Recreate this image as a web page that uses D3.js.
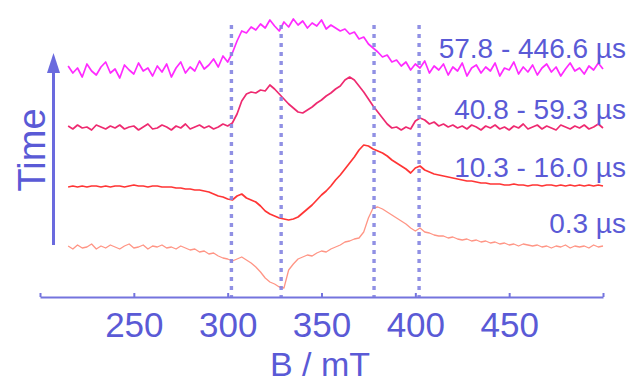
<!DOCTYPE html>
<html>
<head>
<meta charset="utf-8">
<script src="https://cdn.jsdelivr.net/npm/d3@7"></script>
<style>
  html, body { margin: 0; padding: 0; background: #fff; }
  svg { display: block; }
  text { font-family: "Liberation Sans", Arial, sans-serif; }
</style>
</head>
<body>
<svg id="chart" width="633" height="384"></svg>
<script>
// ---------------- DATA ----------------
const field = [
  215, 217.5, 220, 222.5, 225, 227.5, 230, 232.5, 235, 237.5,
  240, 242.5, 245, 247.5, 250, 252.5, 255, 257.5, 260, 262.5,
  265, 267.5, 270, 272.5, 275, 277.5, 280, 282.5, 285, 287.5,
  290, 292.5, 295, 297.5, 300, 302.5, 305, 307.5, 310, 312.5,
  315, 317.5, 320, 322.5, 325, 327.5, 330, 332.5, 335, 337.5,
  340, 342.5, 345, 347.5, 350, 352.5, 355, 357.5, 360, 362.5,
  365, 367.5, 370, 372.5, 375, 377.5, 380, 382.5, 385, 387.5,
  390, 392.5, 395, 397.5, 400, 402.5, 405, 407.5, 410, 412.5,
  415, 417.5, 420, 422.5, 425, 427.5, 430, 432.5, 435, 437.5,
  440, 442.5, 445, 447.5, 450, 452.5, 455, 457.5, 460, 462.5,
  465, 467.5, 470, 472.5, 475, 477.5, 480, 482.5, 485, 487.5,
  490, 492.5, 495, 497.5, 500
];

// Spectra (intensity, arbitrary units, stacked with offsets)
const spec_57_8 = [
  231, 224, 229, 220, 233, 226, 222, 230, 235, 224,
  228, 219, 232, 227, 223, 234, 226, 229, 221, 231,
  225, 233, 220, 229, 235, 224, 230, 226, 236, 228,
  232, 238, 230, 241, 235, 244, 256, 266, 264, 270,
  267, 273, 269, 277, 271, 266, 275, 270, 278, 272,
  276, 269, 274, 271, 277, 268, 272, 269, 266, 268,
  263, 265, 258, 260, 253, 249, 245, 240, 242, 235,
  237, 231, 235, 227, 233, 229, 236, 224, 231, 227,
  233, 222, 230, 226, 234, 221, 229, 232, 224, 230,
  226, 234, 221, 229, 227, 235, 223, 230, 225, 232,
  222, 229, 233, 225, 230, 221, 228, 234, 226, 229,
  223, 231, 227, 234, 228
];
const spec_40_8 = [
  171, 168, 172, 169, 170, 167, 172, 170, 168, 171,
  169, 172, 168, 170, 171, 167, 170, 173, 168, 169,
  172, 170, 167, 171, 169, 173, 168, 170, 172, 169,
  171, 168, 170, 173, 171, 174, 183, 196, 203, 205,
  204, 207, 206, 212, 208, 203, 198, 193, 189, 185,
  184, 187, 190, 194, 197, 201, 204, 208, 211, 217,
  220, 217, 211, 205, 198, 191, 185, 179, 173, 169,
  170, 167, 170, 168, 176, 179, 177, 173, 175, 171,
  173, 170, 172, 169, 171, 168, 172, 170, 167, 171,
  169, 172, 168, 170, 167, 171, 169, 173, 168, 170,
  172, 168, 171, 169, 167, 172, 170, 168, 171, 169,
  172, 168, 170, 173, 169
];
const spec_10_3 = [
  110, 111, 110, 111, 110, 111, 111, 110, 111, 110,
  111, 111, 110, 111, 112, 111, 111, 110, 111, 111,
  110, 110, 110, 109, 109, 108, 108, 107, 107, 106,
  105, 103, 101, 100, 98, 97, 101, 103, 99, 97,
  95, 91, 86, 83, 81, 79, 78, 77, 78, 80,
  84, 88, 92, 97, 102, 106, 111, 117, 122, 128,
  134, 140, 147, 152, 151, 148, 146, 144, 141, 137,
  134, 131, 128, 124, 129, 131, 127, 125, 123, 122,
  121, 120, 119, 118, 117, 116, 116, 115, 114, 114,
  113, 113, 113, 112, 112, 113, 112, 112, 111, 112,
  112, 111, 112, 112, 111, 112, 111, 112, 111, 112,
  111, 112, 111, 112, 111
];
const spec_0_3 = [
  51, 48, 52, 49, 50, 53, 48, 51, 49, 52,
  50, 48, 51, 53, 49, 50, 52, 48, 51, 50,
  52, 49, 50, 48, 51, 49, 47, 48, 45, 46,
  43, 44, 41, 39, 38, 36, 38, 40, 37, 34,
  30, 25, 19, 15, 13, 10, 9, 27, 33, 38,
  40, 42, 41, 44, 46, 45, 48, 50, 52, 55,
  56, 58, 59, 65, 79, 89, 90, 88, 85, 82,
  79, 76, 73, 69, 66, 69, 65, 64, 62, 61,
  61, 59, 60, 58, 57, 58, 56, 57, 55, 56,
  54, 55, 53, 54, 52, 53, 51, 53, 52, 51,
  52, 50, 51, 49, 51, 50, 52, 49, 51, 50,
  51, 49, 52, 50, 51
];

const seriesLabels = ["57.8 - 446.6 µs", "40.8 - 59.3 µs", "10.3 - 16.0 µs", "0.3 µs"];
const seriesValues = [spec_57_8, spec_40_8, spec_10_3, spec_0_3];
const seriesColors = ["#ff2bff", "#ee2a70", "#ff3535", "#ff9585"];

const markerFields = [302, 328.5, 378, 402];        // dashed reference lines (mT)
const tickValues = [200, 250, 300, 350, 400, 450, 500];
const tickLabels = ["", "250", "300", "350", "400", "450", ""];
const xTitle = "B / mT";
const yTitle = "Time";

// ---------------- LAYOUT ----------------
const svg = d3.select("#chart");
const axisColor = "#7474de";
const textColor = "#5a5ad6";
const x = d3.scaleLinear().domain([200, 500]).range([40, 603]);
const y = d3.scaleLinear().domain([0, 280]).range([297, 17]);
const axisY = 297;

// traces
const line = d3.line().x((d, i) => x(field[i])).y(d => y(d));
const widths = [1.7, 1.7, 1.7, 1.3];
seriesValues.forEach((vals, k) => {
  svg.append("path")
    .attr("d", line(vals))
    .attr("fill", "none")
    .attr("stroke", seriesColors[k])
    .attr("stroke-width", widths[k])
    .attr("stroke-linejoin", "round");
});

// dashed vertical markers
svg.selectAll("line.marker").data(markerFields).enter().append("line")
  .attr("class", "marker")
  .attr("x1", d => x(d)).attr("x2", d => x(d))
  .attr("y1", 25).attr("y2", axisY)
  .attr("stroke", "#8585e2")
  .attr("stroke-width", 3.4)
  .attr("stroke-dasharray", "4,5")
  .attr("opacity", 0.9);

// x axis
const axis = d3.axisTop(x)
  .tickValues(tickValues)
  .tickFormat((d, i) => tickLabels[i])
  .tickSizeInner(4).tickSizeOuter(0).tickPadding(0);
const gx = svg.append("g").attr("transform", `translate(0,${axisY})`).call(axis);
gx.select(".domain").attr("stroke", axisColor).attr("stroke-width", 2);
gx.selectAll(".tick line").attr("stroke", axisColor).attr("stroke-width", 2);
gx.selectAll(".tick text")
  .attr("fill", textColor)
  .attr("font-size", 35)
  .attr("font-family", "Liberation Sans, Arial, sans-serif")
  .attr("y", 40)
  .attr("dy", null);

svg.append("text")
  .attr("x", 320).attr("y", 376)
  .attr("text-anchor", "middle")
  .attr("font-size", 34)
  .attr("fill", textColor)
  .text(xTitle);

// series labels
const labelBaselines = [58, 119, 177, 233];
seriesLabels.forEach((t, k) => {
  svg.append("text")
    .attr("x", 626).attr("y", labelBaselines[k])
    .attr("text-anchor", "end")
    .attr("font-size", 28)
    .attr("fill", textColor)
    .text(t);
});

// time arrow
svg.append("line")
  .attr("x1", 53.5).attr("x2", 53.5)
  .attr("y1", 245).attr("y2", 70)
  .attr("stroke", "#6a6ade").attr("stroke-width", 3);
svg.append("path")
  .attr("d", "M53.5,53 L47,73 L60,73 Z")
  .attr("fill", "#6a6ade");
svg.append("text")
  .attr("transform", "translate(45,150) rotate(-90)")
  .attr("text-anchor", "middle")
  .attr("font-size", 38)
  .attr("fill", textColor)
  .text(yTitle);
</script>
</body>
</html>
